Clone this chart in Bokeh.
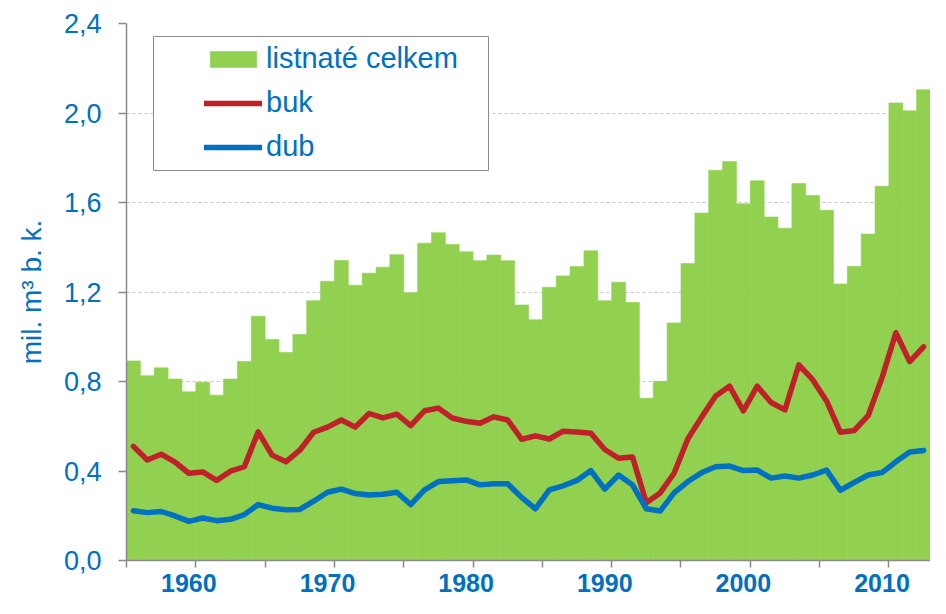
from bokeh.plotting import figure
from bokeh.models import (FixedTicker, CustomJSTickFormatter, Legend, LegendItem,
                          BoxAnnotation, Range1d)
from bokeh.embed import file_html
from bokeh.resources import INLINE

# ---- data -------------------------------------------------------------
years = list(range(1956, 2014))

listnate_celkem = [
    0.892, 0.826, 0.861, 0.811, 0.754, 0.797, 0.739, 0.811, 0.889, 1.092,
    0.988, 0.930, 1.010, 1.161, 1.248, 1.341, 1.230, 1.284, 1.311, 1.367,
    1.197, 1.418, 1.465, 1.412, 1.380, 1.340, 1.365, 1.340, 1.142, 1.076,
    1.221, 1.272, 1.314, 1.384, 1.161, 1.244, 1.153, 0.725, 0.801, 1.062,
    1.327, 1.553, 1.744, 1.783, 1.594, 1.697, 1.535, 1.485, 1.685, 1.631,
    1.565, 1.236, 1.315, 1.459, 1.673, 2.045, 2.010, 2.104,
]

buk = [
    0.510, 0.449, 0.475, 0.440, 0.390, 0.396, 0.358, 0.399, 0.419, 0.575,
    0.471, 0.441, 0.493, 0.573, 0.596, 0.628, 0.596, 0.657, 0.637, 0.654,
    0.603, 0.669, 0.681, 0.637, 0.622, 0.613, 0.642, 0.628, 0.542, 0.557,
    0.543, 0.578, 0.574, 0.569, 0.496, 0.457, 0.463, 0.258, 0.302, 0.390,
    0.544, 0.642, 0.735, 0.779, 0.669, 0.779, 0.706, 0.673, 0.874, 0.808,
    0.713, 0.573, 0.581, 0.647, 0.816, 1.018, 0.889, 0.955,
]

dub = [
    0.222, 0.214, 0.219, 0.199, 0.175, 0.190, 0.178, 0.184, 0.205, 0.250,
    0.234, 0.227, 0.228, 0.265, 0.305, 0.319, 0.299, 0.293, 0.296, 0.305,
    0.250, 0.316, 0.353, 0.356, 0.360, 0.338, 0.343, 0.343, 0.282, 0.231,
    0.316, 0.334, 0.358, 0.402, 0.319, 0.382, 0.338, 0.231, 0.221, 0.302,
    0.353, 0.393, 0.419, 0.422, 0.402, 0.404, 0.368, 0.378, 0.368, 0.382,
    0.404, 0.314, 0.349, 0.382, 0.393, 0.441, 0.485, 0.492,
]

y_ticks = [0.0, 0.4, 0.8, 1.2, 1.6, 2.0, 2.4]
x_label_years = [1960, 1970, 1980, 1990, 2000, 2010]
x_tick_marks = [1955.5, 1960.5, 1965.5, 1970.5, 1975.5, 1980.5,
                1985.5, 1990.5, 1995.5, 2000.5, 2005.5, 2010.5]

series_labels = ["listnaté celkem", "buk", "dub"]
y_axis_title = "mil. m³ b. k."

# ---- styling ------------------------------------------------------------
BLUE = "#0070C0"
RED = "#C0202A"
GREEN = "#92D050"
AXIS_GRAY = "#8A8A8A"
FONT = "Liberation Sans"

p = figure(width=930, height=598, output_backend="svg", toolbar_location=None,
           x_range=Range1d(1955.5, 2013.5), y_range=Range1d(0, 2.4),
           min_border_left=126, min_border_right=0,
           min_border_top=23, min_border_bottom=38)
p.outline_line_color = None
p.background_fill_color = "white"
p.border_fill_color = "white"

bars = p.vbar(x=years, top=listnate_celkem, width=1.0,
              fill_color=GREEN, line_color=GREEN, line_width=0.6)
l_buk = p.line(years, buk, line_color=RED, line_width=5.5,
               line_join="round", line_cap="round")
l_dub = p.line(years, dub, line_color=BLUE, line_width=5.5,
               line_join="round", line_cap="round")

# x axis
xa = p.xaxis[0]
xa.ticker = FixedTicker(ticks=x_label_years, minor_ticks=x_tick_marks)
xa.major_tick_line_color = None
xa.major_tick_out = 0
xa.major_tick_in = 0
xa.minor_tick_line_color = AXIS_GRAY
xa.minor_tick_line_width = 1.5
xa.minor_tick_out = 7
xa.minor_tick_in = 0
xa.axis_line_color = AXIS_GRAY
xa.axis_line_width = 1.5
xa.major_label_text_font = FONT
xa.major_label_text_font_style = "bold"
xa.major_label_text_font_size = "25px"
xa.major_label_text_color = BLUE
xa.major_label_standoff = 6

# y axis
ya = p.yaxis[0]
ya.ticker = FixedTicker(ticks=y_ticks)
ya.formatter = CustomJSTickFormatter(code="return tick.toFixed(1).replace('.', ',');")
ya.major_tick_out = 8
ya.major_tick_in = 0
ya.major_tick_line_color = AXIS_GRAY
ya.major_tick_line_width = 1.5
ya.minor_tick_line_color = None
ya.axis_line_color = AXIS_GRAY
ya.axis_line_width = 1.5
ya.major_label_text_font = FONT
ya.major_label_text_font_size = "27px"
ya.major_label_text_color = BLUE
ya.major_label_standoff = 17
ya.axis_label = y_axis_title
ya.axis_label_text_font = FONT
ya.axis_label_text_font_size = "28px"
ya.axis_label_text_font_style = "normal"
ya.axis_label_text_color = BLUE
ya.axis_label_standoff = 14

p.xgrid.visible = False
p.ygrid.grid_line_color = "#C4C4C4"
p.ygrid.grid_line_dash = "3 3"
p.ygrid.grid_line_width = 1

# legend frame (white box with gray border)
frame_box = BoxAnnotation(left=153, right=488, top=36, bottom=170,
                          left_units="canvas", right_units="canvas",
                          top_units="canvas", bottom_units="canvas",
                          fill_color="white", fill_alpha=1.0,
                          line_color="#8C8C8C", line_width=1, line_alpha=1.0)
p.add_layout(frame_box)

legend = Legend(items=[LegendItem(label=series_labels[0], renderers=[bars]),
                       LegendItem(label=series_labels[1], renderers=[l_buk]),
                       LegendItem(label=series_labels[2], renderers=[l_dub])],
                location=(78, 397), orientation="vertical",
                border_line_color=None, background_fill_alpha=0.0,
                padding=0, spacing=11, margin=0,
                glyph_width=58, glyph_height=20, label_standoff=4,
                label_text_font=FONT, label_text_font_size="29px",
                label_text_color=BLUE)
p.add_layout(legend)

open("out.html", "w").write(file_html(p, INLINE))
